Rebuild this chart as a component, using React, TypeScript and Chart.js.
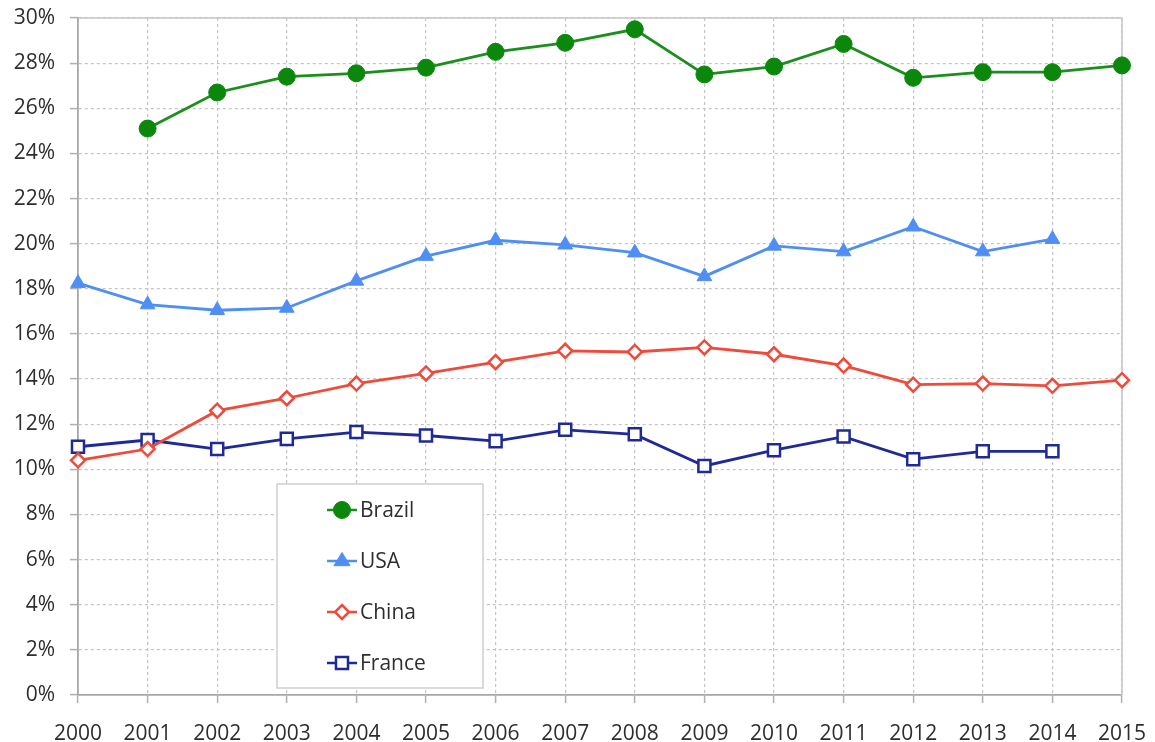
import React, { useEffect, useRef } from "react";
import { Chart, registerables } from "chart.js";

Chart.register(...registerables);

// Share of GDP (%) by country, 2000–2015
const years = [
  "2000", "2001", "2002", "2003", "2004", "2005", "2006", "2007",
  "2008", "2009", "2010", "2011", "2012", "2013", "2014", "2015",
];

const brazil = [
  null, 25.1, 26.7, 27.4, 27.55, 27.8, 28.5, 28.9,
  29.5, 27.5, 27.85, 28.85, 27.35, 27.6, 27.6, 27.9,
];
const usa = [
  18.25, 17.3, 17.05, 17.15, 18.35, 19.45, 20.15, 19.95,
  19.6, 18.55, 19.9, 19.65, 20.75, 19.65, 20.2, null,
];
const china = [
  10.4, 10.9, 12.6, 13.15, 13.8, 14.25, 14.75, 15.25,
  15.2, 15.4, 15.1, 14.6, 13.75, 13.8, 13.7, 13.95,
];
const france = [
  11.0, 11.3, 10.9, 11.35, 11.65, 11.5, 11.25, 11.75,
  11.55, 10.15, 10.85, 11.45, 10.45, 10.8, 10.8, null,
];

const yTicks = [0, 2, 4, 6, 8, 10, 12, 14, 16, 18, 20, 22, 24, 26, 28, 30];

const FONT = '"Open Sans", "Noto Sans", sans-serif';

type Series = {
  label: string;
  data: (number | null)[];
  line: string;
  fill: string;
  style: "circle" | "triangle" | "rectRot" | "rect";
  radius: number;
};

const series: Series[] = [
  { label: "Brazil", data: brazil, line: "#1b8f1b", fill: "#0b870b", style: "circle", radius: 8.5 },
  { label: "USA", data: usa, line: "#4f8ff5", fill: "#4f8ff5", style: "triangle", radius: 8.5 },
  { label: "China", data: china, line: "#ef4a3a", fill: "#ffffff", style: "rectRot", radius: 7 },
  { label: "France", data: france, line: "#1f2a98", fill: "#ffffff", style: "rect", radius: 8.5 },
];

// Light frame on the top and right edges of the plot area
const framePlugin = {
  id: "frame",
  beforeDatasetsDraw(chart: any) {
    const { ctx, chartArea: a } = chart;
    ctx.save();
    ctx.strokeStyle = "#c6c6c6";
    ctx.lineWidth = 1.5;
    ctx.beginPath();
    ctx.moveTo(a.left, a.top);
    ctx.lineTo(a.right, a.top);
    ctx.lineTo(a.right, a.bottom);
    ctx.stroke();
    ctx.restore();
  },
};

function drawMarker(ctx: CanvasRenderingContext2D, style: string, r: number, x: number, y: number) {
  ctx.beginPath();
  if (style === "circle") {
    ctx.arc(x, y, r, 0, Math.PI * 2);
  } else if (style === "triangle") {
    ctx.moveTo(x, y - r);
    ctx.lineTo(x + r * 0.95, y + r * 0.55);
    ctx.lineTo(x - r * 0.95, y + r * 0.55);
    ctx.closePath();
  } else if (style === "rectRot") {
    ctx.moveTo(x, y - r);
    ctx.lineTo(x + r, y);
    ctx.lineTo(x, y + r);
    ctx.lineTo(x - r, y);
    ctx.closePath();
  } else {
    const s = r * Math.SQRT1_2;
    ctx.rect(x - s, y - s, 2 * s, 2 * s);
  }
  ctx.fill();
  ctx.stroke();
}

// Boxed legend sitting inside the lower part of the plot
const legendBoxPlugin = {
  id: "legendBox",
  afterDraw(chart: any) {
    const { ctx, chartArea: a } = chart;
    const left = a.left + 199;
    const top = a.top + 466;
    const w = 206;
    const h = 204;
    ctx.save();
    ctx.fillStyle = "#ffffff";
    ctx.fillRect(left, top, w, h);
    ctx.strokeStyle = "#cfcfcf";
    ctx.lineWidth = 1.5;
    ctx.strokeRect(left, top, w, h);

    chart.data.datasets.forEach((ds: any, i: number) => {
      const cy = top + 26 + i * 51;
      const x0 = left + 50;
      const x1 = left + 80;
      ctx.strokeStyle = ds.borderColor;
      ctx.lineWidth = 2.5;
      ctx.beginPath();
      ctx.moveTo(x0, cy);
      ctx.lineTo(x1, cy);
      ctx.stroke();
      ctx.fillStyle = ds.pointBackgroundColor;
      ctx.strokeStyle = ds.pointBorderColor;
      ctx.lineWidth = ds.pointBorderWidth;
      drawMarker(ctx, ds.pointStyle, ds.pointRadius, (x0 + x1) / 2, cy);
      ctx.fillStyle = "#2e2e2e";
      ctx.font = `21px ${FONT}`;
      ctx.textBaseline = "middle";
      ctx.textAlign = "left";
      ctx.fillText(ds.label, x1 + 3, cy + 1);
    });
    ctx.restore();
  },
};

export default function App() {
  const canvasRef = useRef<HTMLCanvasElement>(null);

  useEffect(() => {
    document.body.style.margin = "0";
    const canvas = canvasRef.current;
    if (!canvas) return;

    const chart = new Chart(canvas, {
      type: "line",
      data: {
        labels: years,
        datasets: series.map((s) => ({
          label: s.label,
          data: s.data,
          borderColor: s.line,
          borderWidth: 2.8,
          backgroundColor: s.fill,
          pointBackgroundColor: s.fill,
          pointBorderColor: s.style === "circle" ? s.fill : s.line,
          pointBorderWidth: s.style === "circle" || s.style === "triangle" ? 1 : 2.5,
          pointStyle: s.style,
          pointRadius: s.radius,
          tension: 0,
          spanGaps: false,
          fill: false,
        })),
      },
      options: {
        responsive: false,
        animation: false,
        devicePixelRatio: 1,
        layout: { padding: { left: 0, top: 18, right: 33, bottom: 0 } },
        plugins: {
          legend: { display: false },
          tooltip: { enabled: false },
        },
        scales: {
          x: {
            type: "category",
            offset: false,
            grid: {
              color: "#c4c4c4",
              lineWidth: 1.2,
              tickLength: 8,
              tickColor: "#b0b0b0",
              tickWidth: 1.5,
            },
            border: { display: true, color: "#a8a8a8", width: 1.8, dash: [3, 3] },
            ticks: {
              font: { family: FONT, size: 21 },
              color: "#2e2e2e",
              padding: 18,
              maxRotation: 0,
              autoSkip: false,
            },
            afterFit: (s: any) => {
              s.height = 47;
              s.paddingLeft = 0;
              s.paddingRight = 0;
            },
          },
          y: {
            type: "linear",
            min: 0,
            max: 30,
            afterBuildTicks: (s: any) => {
              s.ticks = yTicks.map((v) => ({ value: v }));
            },
            grid: {
              color: "#c4c4c4",
              lineWidth: 1.2,
              tickLength: 8,
              tickColor: "#b0b0b0",
              tickWidth: 1.5,
            },
            border: { display: true, color: "#a8a8a8", width: 1.8, dash: [3, 3] },
            ticks: {
              font: { family: FONT, size: 21 },
              color: "#2e2e2e",
              padding: 15,
              callback: (v: any) => `${v}%`,
            },
            afterFit: (s: any) => {
              s.width = 78;
              s.paddingTop = 0;
              s.paddingBottom = 0;
            },
          },
        },
      },
      plugins: [framePlugin, legendBoxPlugin],
    });

    return () => chart.destroy();
  }, []);

  return (
    <div style={{ position: "absolute", left: 0, top: 0, width: 1155, height: 742, background: "#ffffff" }}>
      <canvas ref={canvasRef} width={1155} height={742} style={{ display: "block" }} />
    </div>
  );
}
